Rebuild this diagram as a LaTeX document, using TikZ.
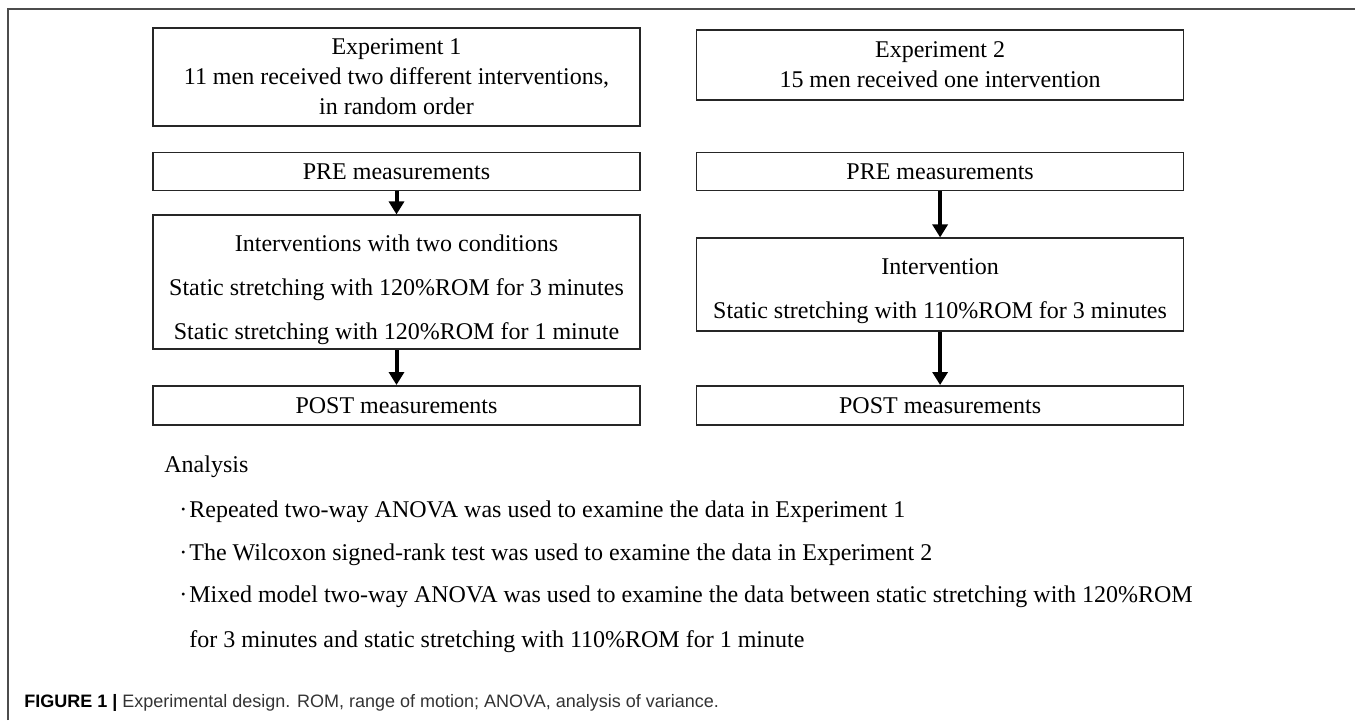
\documentclass[tikz,border=0pt]{standalone}
\usepackage{fontspec}
\setmainfont{Liberation Serif}
\setsansfont{Liberation Sans}
\usetikzlibrary{positioning,arrows.meta}

\begin{document}
\begin{tikzpicture}[x=0.5pt,y=-0.5pt,
        box/.style={draw=black!85,line width=0.8pt,minimum width=243.5pt,inner sep=0pt,
          align=center,font=\fontsize{12}{15}\selectfont},
        arr/.style={-{Triangle[width=7.5pt,length=6.5pt]},line width=2pt},
        note/.style={anchor=west,inner sep=0pt,font=\fontsize{12}{15}\selectfont}]

      \useasboundingbox (0,0) rectangle (1355,720);
      \draw[black!70,line width=1.1pt] (8,720) -- (8,9) -- (1355,9);

      \node[box,minimum height=49pt] (exp1) at (396.5,77)
        {Experiment 1\\11 men received two different interventions,\\in random order};
      \node[box,minimum height=19pt] (pre1) [below=12.5pt of exp1] {PRE measurements};
      \node[box,minimum height=67pt] (int1) [below=11.5pt of pre1]
        {\rule{0pt}{16pt}Interventions with two conditions\\[7pt]Static stretching with 120\%ROM for 3 minutes\\[7pt]Static stretching with 120\%ROM for 1 minute};
      \node[box,minimum height=19.5pt] (post1) [below=17.5pt of int1] {POST measurements};

      \node[box,minimum height=19pt] (pre2) [right=27.5pt of pre1] {PRE measurements};
      \node[box,minimum height=35pt] (exp2) [above=25.5pt of pre2]
        {Experiment 2\\15 men received one intervention};
      \node[box,minimum height=46.5pt] (int2) [below=23pt of pre2]
        {\rule{0pt}{14pt}Intervention\\[7pt]Static stretching with 110\%ROM for 3 minutes};
      \node[box,minimum height=19.5pt] (post2) [below=26.5pt of int2] {POST measurements};

      \path[arr]
        (pre1) edge (int1)
        (int1) edge (post1)
        (pre2) edge (int2)
        (int2) edge (post2);

      \node[note] (ana) at (164,467) {Analysis};
      \node[note] (an1) at (189,512) {\llap{\textperiodcentered\kern1pt}Repeated two-way ANOVA was used to examine the data in Experiment 1};
      \node[note] (an2) at (189,555) {\llap{\textperiodcentered\kern1pt}The Wilcoxon signed-rank test was used to examine the data in Experiment 2};
      \node[note] (an3) at (189,597) {\llap{\textperiodcentered\kern1pt}Mixed model two-way ANOVA was used to examine the data between static stretching with 120\%ROM};
      \node[note] (an4) at (189,642) {for 3 minutes and static stretching with 110\%ROM for 1 minute};

      \node[anchor=west,inner sep=0pt,font=\sffamily\fontsize{9}{11}\selectfont] (cap) at (24,703)
        {\textbf{FIGURE 1 |} \textcolor{black!80}{Experimental design. ROM, range of motion; ANOVA, analysis of variance.}};
    \end{tikzpicture}
\end{document}
